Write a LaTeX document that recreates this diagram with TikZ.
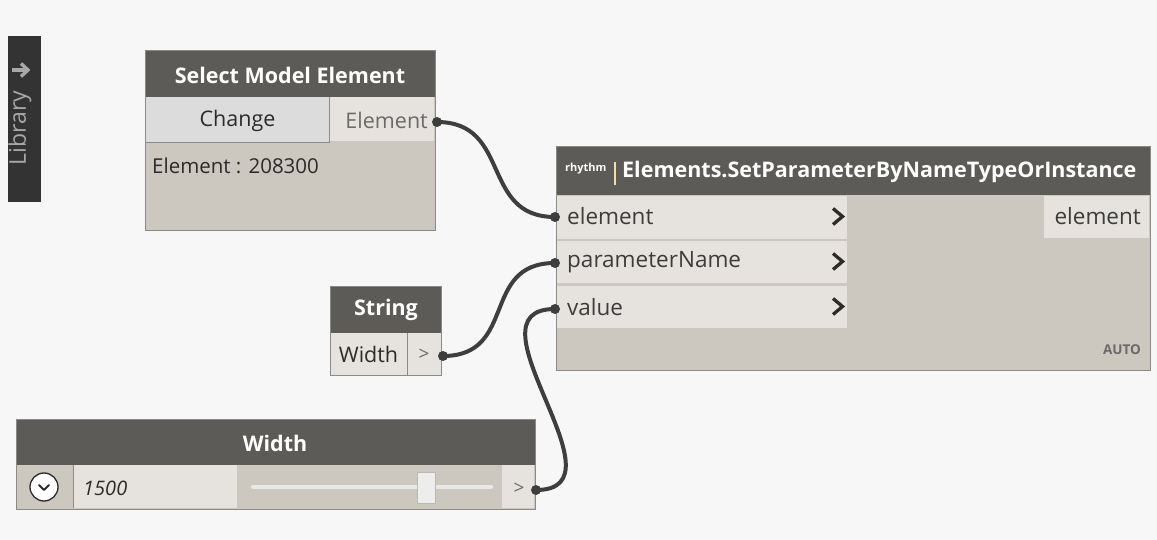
\documentclass[tikz,border=0pt]{standalone}
\usepackage{fontspec}
\setmainfont{Open Sans}
\usetikzlibrary{calc}
\definecolor{canvas}{HTML}{F7F7F7}
\definecolor{headbg}{HTML}{5D5B58}
\definecolor{bodybg}{HTML}{CCC8C0}
\definecolor{portbg}{HTML}{E6E3DE}
\definecolor{btnbg}{HTML}{DCDCDC}
\definecolor{edge}{HTML}{8C8A86}
\definecolor{wire}{HTML}{3E3E3E}
\definecolor{libbg}{HTML}{333333}
\definecolor{libtx}{HTML}{A8A8A8}
\definecolor{txt}{HTML}{2B2B2B}
\definecolor{porttx}{HTML}{3C3C3C}
\definecolor{dimtxt}{HTML}{6A6A6A}
\definecolor{barcol}{HTML}{F2DFA8}
\tikzset{
  headtxt/.style={text=white,font=\fontsize{21.5}{24}\selectfont\bfseries,inner sep=0pt},
  rowtxt/.style={text=txt,font=\fontsize{21.5}{24}\selectfont,inner sep=0pt},
  porttxt/.style={text=porttx,font=\fontsize{22.5}{26}\selectfont,inner sep=0pt},
  dimport/.style={text=dimtxt,font=\fontsize{21.5}{24}\selectfont,inner sep=0pt},
  chevron/.style={draw=txt,line width=3.3pt,line cap=butt,line join=miter},
  conn/.style={draw=wire,line width=4pt},
  plug/.style={fill=wire},
}
\begin{document}
\begin{tikzpicture}[x=1pt,y=-1pt]
\fill[canvas] (0,0) rectangle (1157,540);
\useasboundingbox (0,0) rectangle (1157,540);

% library side panel
\fill[libbg] (8,36) rectangle (41,202);
\begin{scope}
  \clip (8,36) rectangle (41,202);
  \node[rotate=90,text=libtx,font=\fontsize{23}{26}\selectfont,inner sep=0pt] (libtext) at (20,128) {Library};
\end{scope}
\coordinate (libarrowtail) at (12,70);
\coordinate (libarrowtip) at (28,70);
\draw[libtx,line width=3.4pt] (libarrowtail) -- ($(libarrowtip)+(-2,0)$);
\draw[libtx,line width=3.4pt,line join=miter] ($(libarrowtip)+(-7,-6.5)$) -- (libarrowtip) -- ($(libarrowtip)+(-7,6.5)$);

% Select Model Element
\fill[bodybg] (145,51) rectangle (435,231);
\fill[headbg] (145,51) rectangle (435,97);
\fill[btnbg] (146,97) rectangle (329,142);
\draw[edge,line width=0.8pt] (146,142) -- (329,142) -- (329,97);
\fill[portbg] (329.5,97) rectangle (434,141);
\draw[edge,line width=1pt] (145,51) rectangle (435,231);
\node[headtxt] (selhead) at (290,75) {Select Model Element};
\node[rowtxt] (change) at (237.5,121) {Change};
\node[dimport,anchor=east] (selout) at (428,120) {Element};
\node[rowtxt,anchor=west,font=\fontsize{20.5}{24}\selectfont] (selval) at (152,166) {Element : 208300};
\coordinate (pElemOut) at (437,122);

% String
\fill[headbg] (330,286) rectangle (441,333);
\fill[portbg] (330,333) rectangle (441,375);
\draw[edge,line width=0.8pt] (407,333) -- (407,375);
\draw[edge,line width=1pt] (330,286) rectangle (441,375);
\node[headtxt] (strhead) at (386,310) {String};
\node[rowtxt] (strval) at (368.5,354) {Width};
\node[dimport,font=\fontsize{19}{22}\selectfont] (strport) at (424,355) {>};
\coordinate (pStrOut) at (443,356);

% Width slider
\fill[headbg] (16,419) rectangle (535,465);
\fill[bodybg] (16,465) rectangle (535,509);
\fill[portbg] (73,465) rectangle (237,508);
\fill[portbg] (502,465) rectangle (534,508);
\draw[edge,line width=0.8pt] (73,465) -- (73,508);
\draw[edge,line width=1pt] (16,419) rectangle (535,509);
\node[headtxt] (sldhead) at (275,443) {Width};
\draw[txt,fill=white,line width=1.3pt] (44,487) circle (14);
\draw[txt,line width=2pt,line cap=round,line join=round] (39,485) -- (44,490) -- (49,485);
\node[rowtxt,anchor=west,font=\fontsize{20}{24}\selectfont\itshape] (sldval) at (83,488) {1500};
\draw[white!91!black,line width=4.5pt,line cap=round] (253,487) -- (491,487);
\fill[edge!60!white] (416.5,472) rectangle (435.5,504);
\fill[white!93!black] (417.5,473) rectangle (434.5,503);
\node[dimport,font=\fontsize{19}{22}\selectfont] (sldport) at (519,489) {>};
\coordinate (pSldOut) at (536,490);

% SetParameterByNameTypeOrInstance
\fill[bodybg] (556,147) rectangle (1150,370);
\fill[headbg] (556,147) rectangle (1150,195);
\fill[portbg] (557,196) rectangle (847,239);
\fill[portbg] (557,241) rectangle (847,283);
\fill[portbg] (557,285.5) rectangle (847,328);
\fill[portbg] (1044,196) rectangle (1149,238);
\draw[edge,line width=1pt] (556,147) rectangle (1150,370);
\node[text=white,font=\fontsize{11}{12}\selectfont\bfseries,inner sep=0pt,anchor=west] (rhythm) at (565,169) {rhythm};
\fill[barcol] (613.5,162) rectangle (616,185);
\node[headtxt,anchor=west] (mainhead) at (622,172) {Elements.SetParameterByNameTypeOrInstance};
\node[porttxt,anchor=west] (inElem) at (567,216) {element};
\node[porttxt,anchor=west] (inParam) at (567,262) {parameterName};
\node[porttxt,anchor=west] (inVal) at (567,307) {value};
\draw[chevron] (833,208.5) -- (842.5,216.5) -- (833,224.5);
\draw[chevron] (833,253.5) -- (842.5,261.5) -- (833,269.5);
\draw[chevron] (833,298.5) -- (842.5,306.5) -- (833,314.5);
\node[porttxt,anchor=east] (outElem) at (1141,216) {element};
\node[text=dimtxt,font=\fontsize{13.5}{15}\selectfont\bfseries,inner sep=0pt,anchor=east] (auto) at (1141,350) {AUTO};
\coordinate (pElemIn) at (555,217);
\coordinate (pParamIn) at (555,263);
\coordinate (pValIn) at (555,309);

% wires
\draw[conn] (pElemOut) .. controls +(75,0) and +(-75,0) .. (pElemIn);
\draw[conn] (pStrOut) .. controls +(75,0) and +(-75,0) .. (pParamIn);
\draw[conn] (pSldOut) .. controls +(95,0) and +(-95,0) .. (pValIn);
\foreach \p in {pElemOut,pStrOut,pSldOut,pElemIn,pParamIn,pValIn}
  \fill[plug] (\p) circle (5);
\end{tikzpicture}
\end{document}
